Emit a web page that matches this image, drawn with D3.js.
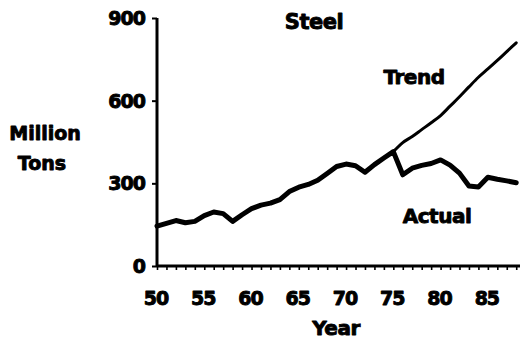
<!DOCTYPE html>
<html>
<head>
<meta charset="utf-8">
<script src="https://cdn.jsdelivr.net/npm/d3@7"></script>
<style>
  html, body { margin: 0; padding: 0; background: #fff; }
  svg { display: block; }
  text { font-family: "DejaVu Sans", sans-serif; font-weight: bold; fill: #000; stroke: #000; stroke-width: 0.9; stroke-linejoin: round; }
</style>
</head>
<body>
<svg id="chart" width="522" height="344"></svg>
<script>
// ---- data ----
const years = [1950,1951,1952,1953,1954,1955,1956,1957,1958,1959,
               1960,1961,1962,1963,1964,1965,1966,1967,1968,1969,
               1970,1971,1972,1973,1974,1975,1976,1977,1978,1979,
               1980,1981,1982,1983,1984,1985,1986,1987,1988];
const actual = [145,155,165,157,162,183,196,190,162,186,
                208,221,228,241,270,286,296,311,336,361,
                370,364,340,368,392,415,331,355,365,372,
                385,366,337,290,287,322,315,309,302];
const trendYears = [1975,1976,1977,1978,1979,1980,1981,1982,1983,1984,1985,1986,1987,1988];
const trend = [415,448,470,495,520,546,580,614,650,685,715,746,778,810];
const xTickValues = [1950,1955,1960,1965,1970,1975,1980,1985];
const xTickLabels = ["50","55","60","65","70","75","80","85"];
const yTickValues = [0,300,600,900];
const yTickLabels = ["0","300","600","900"];

// ---- chart ----
const svg = d3.select("#chart");
const x = d3.scaleLinear().domain([1950, 1988.4]).range([157, 520]);
const y = d3.scaleLinear().domain([0, 900]).range([266, 18]);

// x axis
const xAxis = d3.axisBottom(x)
  .tickValues(d3.range(1950, 1989))
  .tickSize(4)
  .tickFormat("");
const gx = svg.append("g").attr("transform", `translate(0,${y(0)})`).call(xAxis);
gx.select(".domain").attr("stroke", "#000").attr("stroke-width", 3).attr("d", `M${x(1950)},0H${x.range()[1]}`);
gx.selectAll(".tick line").attr("stroke", "#000").attr("stroke-width", 1.6);

svg.append("g").selectAll("text").data(xTickValues).join("text")
  .attr("x", d => x(d) - 1)
  .attr("y", y(0) + 39)
  .attr("text-anchor", "middle")
  .attr("font-size", 19)
  .attr("letter-spacing", -1)
  .text((d, i) => xTickLabels[i]);

// y axis
const yAxis = d3.axisLeft(y).tickValues(yTickValues).tickSize(5).tickFormat("");
const gy = svg.append("g").attr("transform", `translate(${x(1950)},0)`).call(yAxis);
gy.select(".domain").attr("stroke", "#000").attr("stroke-width", 3).attr("d", `M0,${y(900)}V${y(0)}`);
gy.selectAll(".tick line").attr("stroke", "#000").attr("stroke-width", 2);

svg.append("g").selectAll("text").data(yTickValues).join("text")
  .attr("x", x(1950) - 12)
  .attr("y", d => y(d) + 7)
  .attr("text-anchor", "end")
  .attr("font-size", 19)
  .attr("letter-spacing", -1)
  .text((d, i) => yTickLabels[i]);

// lines
const line = d3.line().x(d => x(d[0])).y(d => y(d[1])).curve(d3.curveMonotoneX);
svg.append("path")
  .datum(trendYears.map((yr, i) => [yr, trend[i]]))
  .attr("d", line)
  .attr("fill", "none").attr("stroke", "#000").attr("stroke-width", 3)
  .attr("stroke-linejoin", "round").attr("stroke-linecap", "round");
svg.append("path")
  .datum(years.map((yr, i) => [yr, actual[i]]))
  .attr("d", d3.line().x(d => x(d[0])).y(d => y(d[1])))
  .attr("fill", "none").attr("stroke", "#000").attr("stroke-width", 5)
  .attr("stroke-linejoin", "round").attr("stroke-linecap", "round");

// labels
svg.append("text").attr("x", 314).attr("y", 29).attr("text-anchor", "middle")
  .attr("font-size", 21).attr("letter-spacing", -0.5).text("Steel");
svg.append("text").attr("x", 414).attr("y", 84).attr("text-anchor", "middle")
  .attr("font-size", 20).attr("letter-spacing", -0.5).text("Trend");
svg.append("text").attr("x", 437).attr("y", 223).attr("text-anchor", "middle")
  .attr("font-size", 20).attr("letter-spacing", -0.5).text("Actual");
svg.append("text").attr("x", 336).attr("y", 335).attr("text-anchor", "middle")
  .attr("font-size", 20).attr("letter-spacing", -0.5).text("Year");
const yl = svg.append("text").attr("text-anchor", "middle").attr("font-size", 19).attr("letter-spacing", 0);
yl.append("tspan").attr("x", 45).attr("y", 140).text("Million");
yl.append("tspan").attr("x", 42).attr("y", 170).text("Tons");
</script>
</body>
</html>
